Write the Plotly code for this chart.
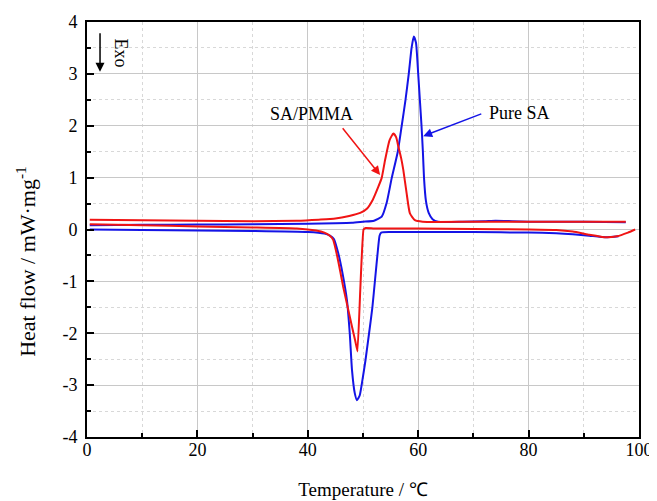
import plotly.graph_objects as go

# ---------------- data ----------------
# Pure SA, cooling (exothermic peak, upper curve)
sa_cool_x = [0.5, 10, 20, 30, 40, 45, 48, 50, 52, 53.4, 54.3, 55.2, 56.3, 57.0, 57.7, 58.3,
             58.8, 59.2, 59.6, 60.0, 60.3, 60.6, 60.85, 61.05, 61.4, 61.9, 62.6, 63.6, 68,
             72, 74, 77, 80, 90, 97.6]
sa_cool_y = [0.08, 0.09, 0.095, 0.10, 0.11, 0.12, 0.13, 0.15, 0.17, 0.25, 0.52, 0.99, 1.5,
             1.99, 2.5, 3.01, 3.5, 3.72, 3.6, 3.0, 2.5, 2.0, 1.5, 1.0, 0.55, 0.32, 0.2, 0.15,
             0.15, 0.16, 0.17, 0.16, 0.15, 0.15, 0.14]

# Pure SA, heating (endothermic peak, lower curve)
sa_heat_x = [0.5, 10, 20, 30, 40, 43, 44, 44.7, 45.5, 46.3, 47.1, 47.6, 48.0, 48.5, 48.9,
             49.4, 49.9, 50.45, 51.1, 51.7, 52.2, 52.7, 53.0, 53.3, 55, 60, 70, 80, 85, 88,
             91, 94, 96.3]
sa_heat_y = [0.0, -0.01, -0.02, -0.03, -0.05, -0.08, -0.12, -0.18, -0.45, -0.85, -1.37,
             -2.0, -2.7, -3.15, -3.29, -3.2, -2.9, -2.52, -2.0, -1.5, -0.95, -0.40, -0.12,
             -0.06, -0.05, -0.05, -0.05, -0.06, -0.07, -0.09, -0.12, -0.15, -0.13]

# SA/PMMA, cooling (upper curve)
pm_cool_x = [0.5, 10, 20, 30, 38, 42, 45, 47.5, 49.5, 50.7, 51.8, 52.8, 53.4, 54.0, 54.8,
             55.5, 56.0, 56.4, 56.9, 57.3, 57.9, 58.5, 59.4, 60.8, 70, 80, 90, 97.6]
pm_cool_y = [0.19, 0.18, 0.17, 0.16, 0.17, 0.19, 0.21, 0.26, 0.32, 0.40, 0.58, 0.83, 1.0,
             1.34, 1.72, 1.85, 1.78, 1.6, 1.38, 1.15, 0.70, 0.31, 0.18, 0.15, 0.15, 0.15,
             0.15, 0.15]

# SA/PMMA, heating (lower curve)
pm_heat_x = [0.5, 10, 20, 30, 38, 41.5, 43, 44, 44.6, 45.3, 45.9, 46.4, 47, 48, 48.6, 49.0,
             49.5, 50.1, 50.5, 52, 60, 70, 80, 85, 88, 91, 94, 96, 98, 99.3]
pm_heat_y = [0.10, 0.08, 0.06, 0.04, 0.02, -0.02, -0.06, -0.12, -0.2, -0.5, -0.82, -1.10,
             -1.39, -1.87, -2.15, -2.35, -1.18, 0.0, 0.03, 0.02, 0.02, 0.01, 0.0, -0.01,
             -0.04, -0.1, -0.15, -0.13, -0.06, 0.0]

x_ticks = [0, 20, 40, 60, 80, 100]
y_ticks = [-4, -3, -2, -1, 0, 1, 2, 3, 4]

BLUE = "#1414e6"
RED = "#f01414"
FONT = "Liberation Serif"

fig = go.Figure()
fig.add_trace(go.Scatter(x=sa_cool_x, y=sa_cool_y, mode="lines",
                         line=dict(color=BLUE, width=2, shape="spline", smoothing=0.5)))
fig.add_trace(go.Scatter(x=sa_heat_x, y=sa_heat_y, mode="lines",
                         line=dict(color=BLUE, width=2, shape="spline", smoothing=0.5)))
fig.add_trace(go.Scatter(x=pm_cool_x, y=pm_cool_y, mode="lines",
                         line=dict(color=RED, width=2, shape="spline", smoothing=0.5)))
fig.add_trace(go.Scatter(x=pm_heat_x, y=pm_heat_y, mode="lines",
                         line=dict(color=RED, width=2, shape="spline", smoothing=0.3)))

grid_major = "#c8c8c8"
grid_minor = "#d8d8d8"

fig.update_xaxes(range=[0, 100], tickvals=x_ticks, ticktext=[str(v) for v in x_ticks],
                 automargin=False,
                 ticks="inside", ticklen=7, tickwidth=1.5, tickcolor="black",
                 showline=True, linecolor="black", linewidth=2, mirror=True,
                 showgrid=True, gridcolor=grid_major, gridwidth=1, zeroline=False,
                 minor=dict(dtick=10, ticks="inside", ticklen=4, tickcolor="black",
                            showgrid=True, gridcolor=grid_minor, griddash="dot"),
                 tickfont=dict(family=FONT, size=18, color="black"),
                 ticklabelstandoff=-5,
                 title=dict(text="Temperature / ℃", font=dict(family=FONT, size=19, color="black"),
                            standoff=24))
fig.update_yaxes(range=[-4, 4], tickvals=y_ticks, ticktext=[str(v) for v in y_ticks],
                 automargin=False,
                 ticks="inside", ticklen=7, tickwidth=1.5, tickcolor="black",
                 showline=True, linecolor="black", linewidth=2, mirror=True,
                 showgrid=True, gridcolor=grid_major, gridwidth=1, zeroline=False,
                 minor=dict(dtick=0.5, ticks="inside", ticklen=4, tickcolor="black",
                            showgrid=True, gridcolor=grid_minor, griddash="dot"),
                 tickfont=dict(family=FONT, size=18, color="black"),
                 ticklabelstandoff=4)

# y-axis title (placed as an annotation to match its position in the reference)
fig.add_annotation(xref="paper", yref="y", x=-0.112, y=-0.62, xanchor="center", yanchor="middle",
                   text="Heat flow / mW·mg<sup>-1</sup>", textangle=-90, showarrow=False,
                   font=dict(family=FONT, size=22, color="black"))

# annotations: labels and arrows
fig.add_annotation(x=53.1, y=1.05, ax=46.1, ay=1.98, axref="x", ayref="y", text="",
                   showarrow=True, arrowhead=2, arrowsize=1.2, arrowwidth=1.5, arrowcolor=RED)
fig.add_annotation(x=40.6, y=2.22, text="SA/PMMA", showarrow=False,
                   font=dict(family=FONT, size=18, color="black"))
fig.add_annotation(x=60.9, y=1.80, ax=71.7, ay=2.24, axref="x", ayref="y", text="",
                   showarrow=True, arrowhead=2, arrowsize=1.2, arrowwidth=1.5, arrowcolor=BLUE)
fig.add_annotation(x=78.4, y=2.24, text="Pure SA", showarrow=False,
                   font=dict(family=FONT, size=18, color="black"))
fig.add_annotation(x=2.36, y=3.04, ax=2.36, ay=3.81, axref="x", ayref="y", text="",
                   showarrow=True, arrowhead=2, arrowsize=1.2, arrowwidth=1.5, arrowcolor="black")
fig.add_annotation(x=6.2, y=3.41, text="Exo", showarrow=False, textangle=90,
                   font=dict(family=FONT, size=18, color="black"))

# the page places the figure 8 px in from the top-left corner
fig.update_layout(width=649, height=493, showlegend=False,
                  plot_bgcolor="white", paper_bgcolor="white",
                  margin=dict(l=79, r=18, t=14, b=64))

fig.write_html("out.html")
